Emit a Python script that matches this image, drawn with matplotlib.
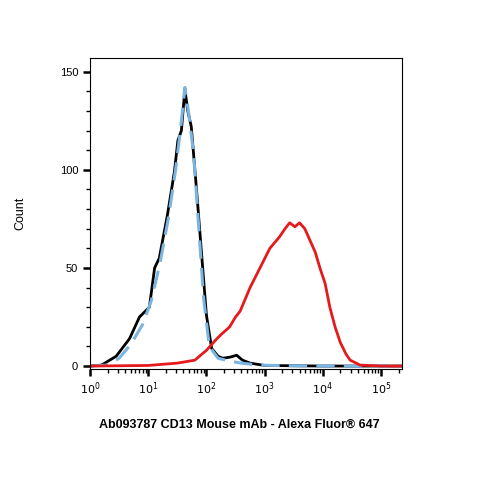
import matplotlib.pyplot as plt
import matplotlib.transforms as mtransforms
import numpy as np

# x in decades (log10 of intensity), y = count
black_dec = [0.0, 0.2, 0.45, 0.68, 0.85, 1.02, 1.11, 1.19, 1.33, 1.45, 1.51, 1.57, 1.63, 1.68, 1.74, 1.83, 1.92, 2.0, 2.09, 2.2, 2.28, 2.4, 2.52, 2.62, 2.75, 3.0, 4.0, 5.36]
black_cnt = [0, 0.5, 5, 14, 25, 30, 50, 55, 77, 99, 115, 120, 141, 130, 122, 90, 56, 26, 9, 5, 4, 4.5, 5.5, 3, 1.5, 0.3, 0, 0]
blue_dec = [0.0, 0.3, 0.5, 0.7, 0.9, 1.05, 1.2, 1.35, 1.47, 1.56, 1.63, 1.7, 1.78, 1.87, 1.95, 2.05, 2.2, 2.4, 2.6, 2.9, 3.3, 4.0, 5.36]
blue_cnt = [0, 0.5, 4, 11, 21, 33, 52, 76, 100, 122, 142, 128, 108, 70, 35, 10, 4, 2.5, 1.5, 0.5, 0.2, 0, 0]
red_dec = [0.0, 1.0, 1.5, 1.8, 2.0, 2.15, 2.25, 2.4, 2.5, 2.58, 2.75, 2.92, 3.09, 3.26, 3.35, 3.43, 3.52, 3.6, 3.69, 3.78, 3.87, 3.95, 4.04, 4.12, 4.21, 4.3, 4.4, 4.47, 4.64, 5.0, 5.36]
red_cnt = [0, 0.3, 1.5, 3, 8, 13, 16, 20, 25, 28, 40, 50, 60, 66, 70, 73, 71, 73, 70, 64, 58, 50, 42, 30, 20, 12, 6, 3, 0.5, 0, 0]

fig = plt.figure(figsize=(4.79, 4.79), dpi=100)
ax = fig.add_axes([90 / 479, 1 - 369 / 479, 312 / 479, 311 / 479])

ax.plot(10 ** np.array(black_dec), black_cnt, color='black', lw=2)
ax.plot(10 ** np.array(blue_dec), blue_cnt, color='#7ab4e0', lw=2.2, dashes=(6, 3))
ax.plot(10 ** np.array(red_dec), red_cnt, color='#e41a1c', lw=2)

ax.set_xscale('log')
ax.set_xlim(1, 10 ** 5.36)
ax.set_ylim(-1.5, 157)
ax.set_xticks([10 ** k for k in range(6)])
ax.set_xticklabels([f'$10^{{{k}}}$' for k in range(6)], fontsize=8, family='Liberation Sans')
offset = mtransforms.ScaledTranslation(10 / 72, 0, fig.dpi_scale_trans)
for lbl in ax.get_xticklabels():
    lbl.set_transform(lbl.get_transform() + offset)
ax.set_yticks([0, 50, 100, 150])
ax.set_yticks(np.arange(0, 156, 10), minor=True)
ax.tick_params(axis='both', which='major', direction='out', length=5, width=1.8, labelsize=8)
ax.tick_params(axis='both', which='minor', direction='out', length=3, width=1)
for lbl in ax.get_yticklabels():
    lbl.set_family('Liberation Sans')
ax.set_ylabel('Count', fontsize=9, family='Liberation Sans', labelpad=24)
fig.text(0.5, 1 - 425 / 479, 'Ab093787 CD13 Mouse mAb - Alexa Fluor® 647', ha='center', va='center',
         fontsize=9, family='Liberation Sans', weight='bold')

fig.savefig('out.png', dpi=100)
